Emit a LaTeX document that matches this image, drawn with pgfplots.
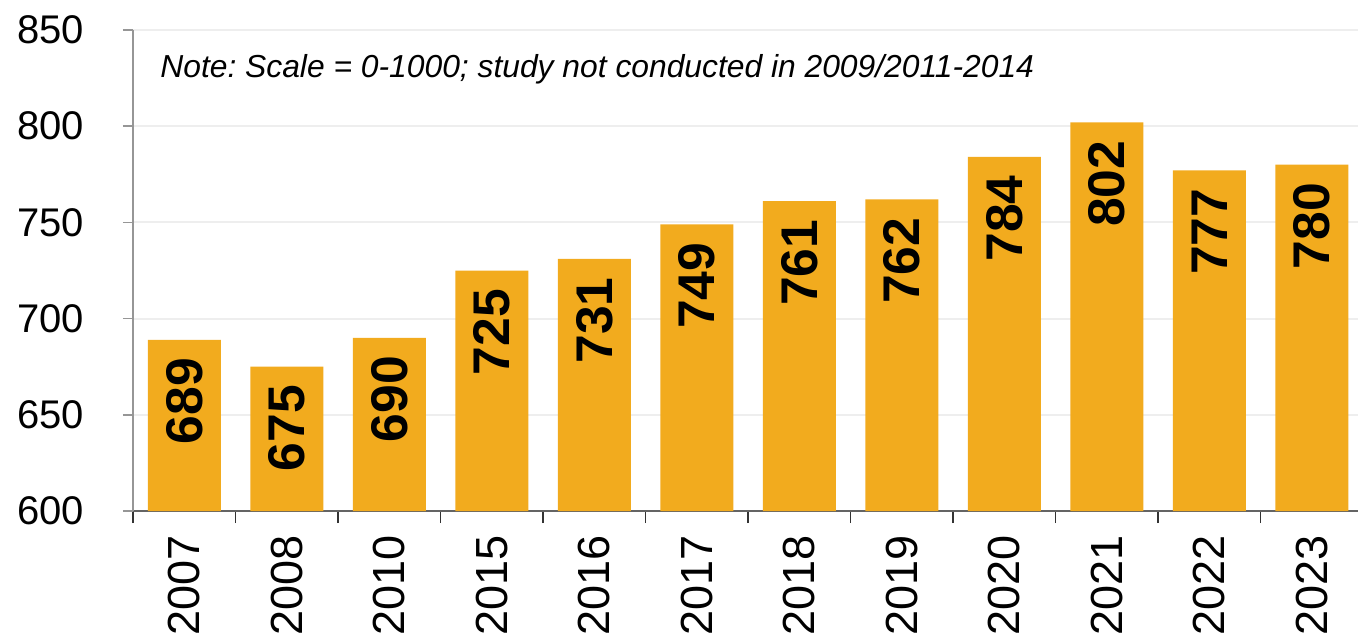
\documentclass[border=0pt]{standalone}
\usepackage{fontspec}
\setmainfont{Liberation Sans}
\usepackage{pgfplots}
\pgfplotsset{compat=1.18}
\definecolor{barorange}{RGB}{242,171,30}
\definecolor{gridgray}{RGB}{238,238,238}
\definecolor{axisgray}{RGB}{150,150,150}
\definecolor{basegray}{RGB}{100,100,100}
\frenchspacing

\begin{document}
\begin{tikzpicture}
\useasboundingbox (-66.5pt,-61.5pt) rectangle (612.5pt,255.5pt);
\begin{axis}[
    scale only axis,
    width            = 612.5pt,
    height           = 240.5pt,
    xmin             = -0.5,
    xmax             = 11.45,
    ymin             = 600,
    ymax             = 850,
    ytick            = {600,650,...,850},
    xtick            = {0,...,11},
    xticklabels      = {2007,2008,2010,2015,2016,2017,2018,2019,2020,2021,2022,2023},
    minor xtick      = {-0.5,0.5,...,10.5},
    axis x line*     = bottom,
    axis y line*     = left,
    x axis line style = {basegray, line width=0.8pt, -},
    y axis line style = {axisgray, line width=0.8pt, -},
    tick align       = outside,
    major tick length = 5pt,
    minor tick length = 6pt,
    major x tick style = {draw=none},
    minor x tick style = {black!80, line width=0.8pt},
    major y tick style = {axisgray, line width=0.8pt},
    ymajorgrids,
    major grid style = {gridgray, line width=1pt},
    /pgf/number format/assume math mode=true,
    xticklabel style = {rotate=90, anchor=east, inner xsep=7pt,
        font=\fontsize{22.5}{22.5}\selectfont},
    yticklabel style = {xshift=-16pt, font=\fontsize{20}{20}\selectfont},
    ybar,
    bar width        = 36.5pt,
    nodes near coords,
    every node near coord/.append style = {rotate=90, anchor=east, inner xsep=9pt,
        font=\bfseries\fontsize{25.8}{25.8}\selectfont, black},
]
    \addplot[fill=barorange, draw=none] coordinates {
        (0,689) (1,675) (2,690) (3,725) (4,731) (5,749)
        (6,761) (7,762) (8,784) (9,802) (10,777) (11,780)
    };
    \node[anchor=base west, inner sep=0pt, font=\itshape\fontsize{15.9}{15.9}\selectfont]
        at (axis cs:-0.237,825.1) {Note: Scale = 0-1000; study not conducted in 2009/2011-2014};
\end{axis}
\end{tikzpicture}
\end{document}
